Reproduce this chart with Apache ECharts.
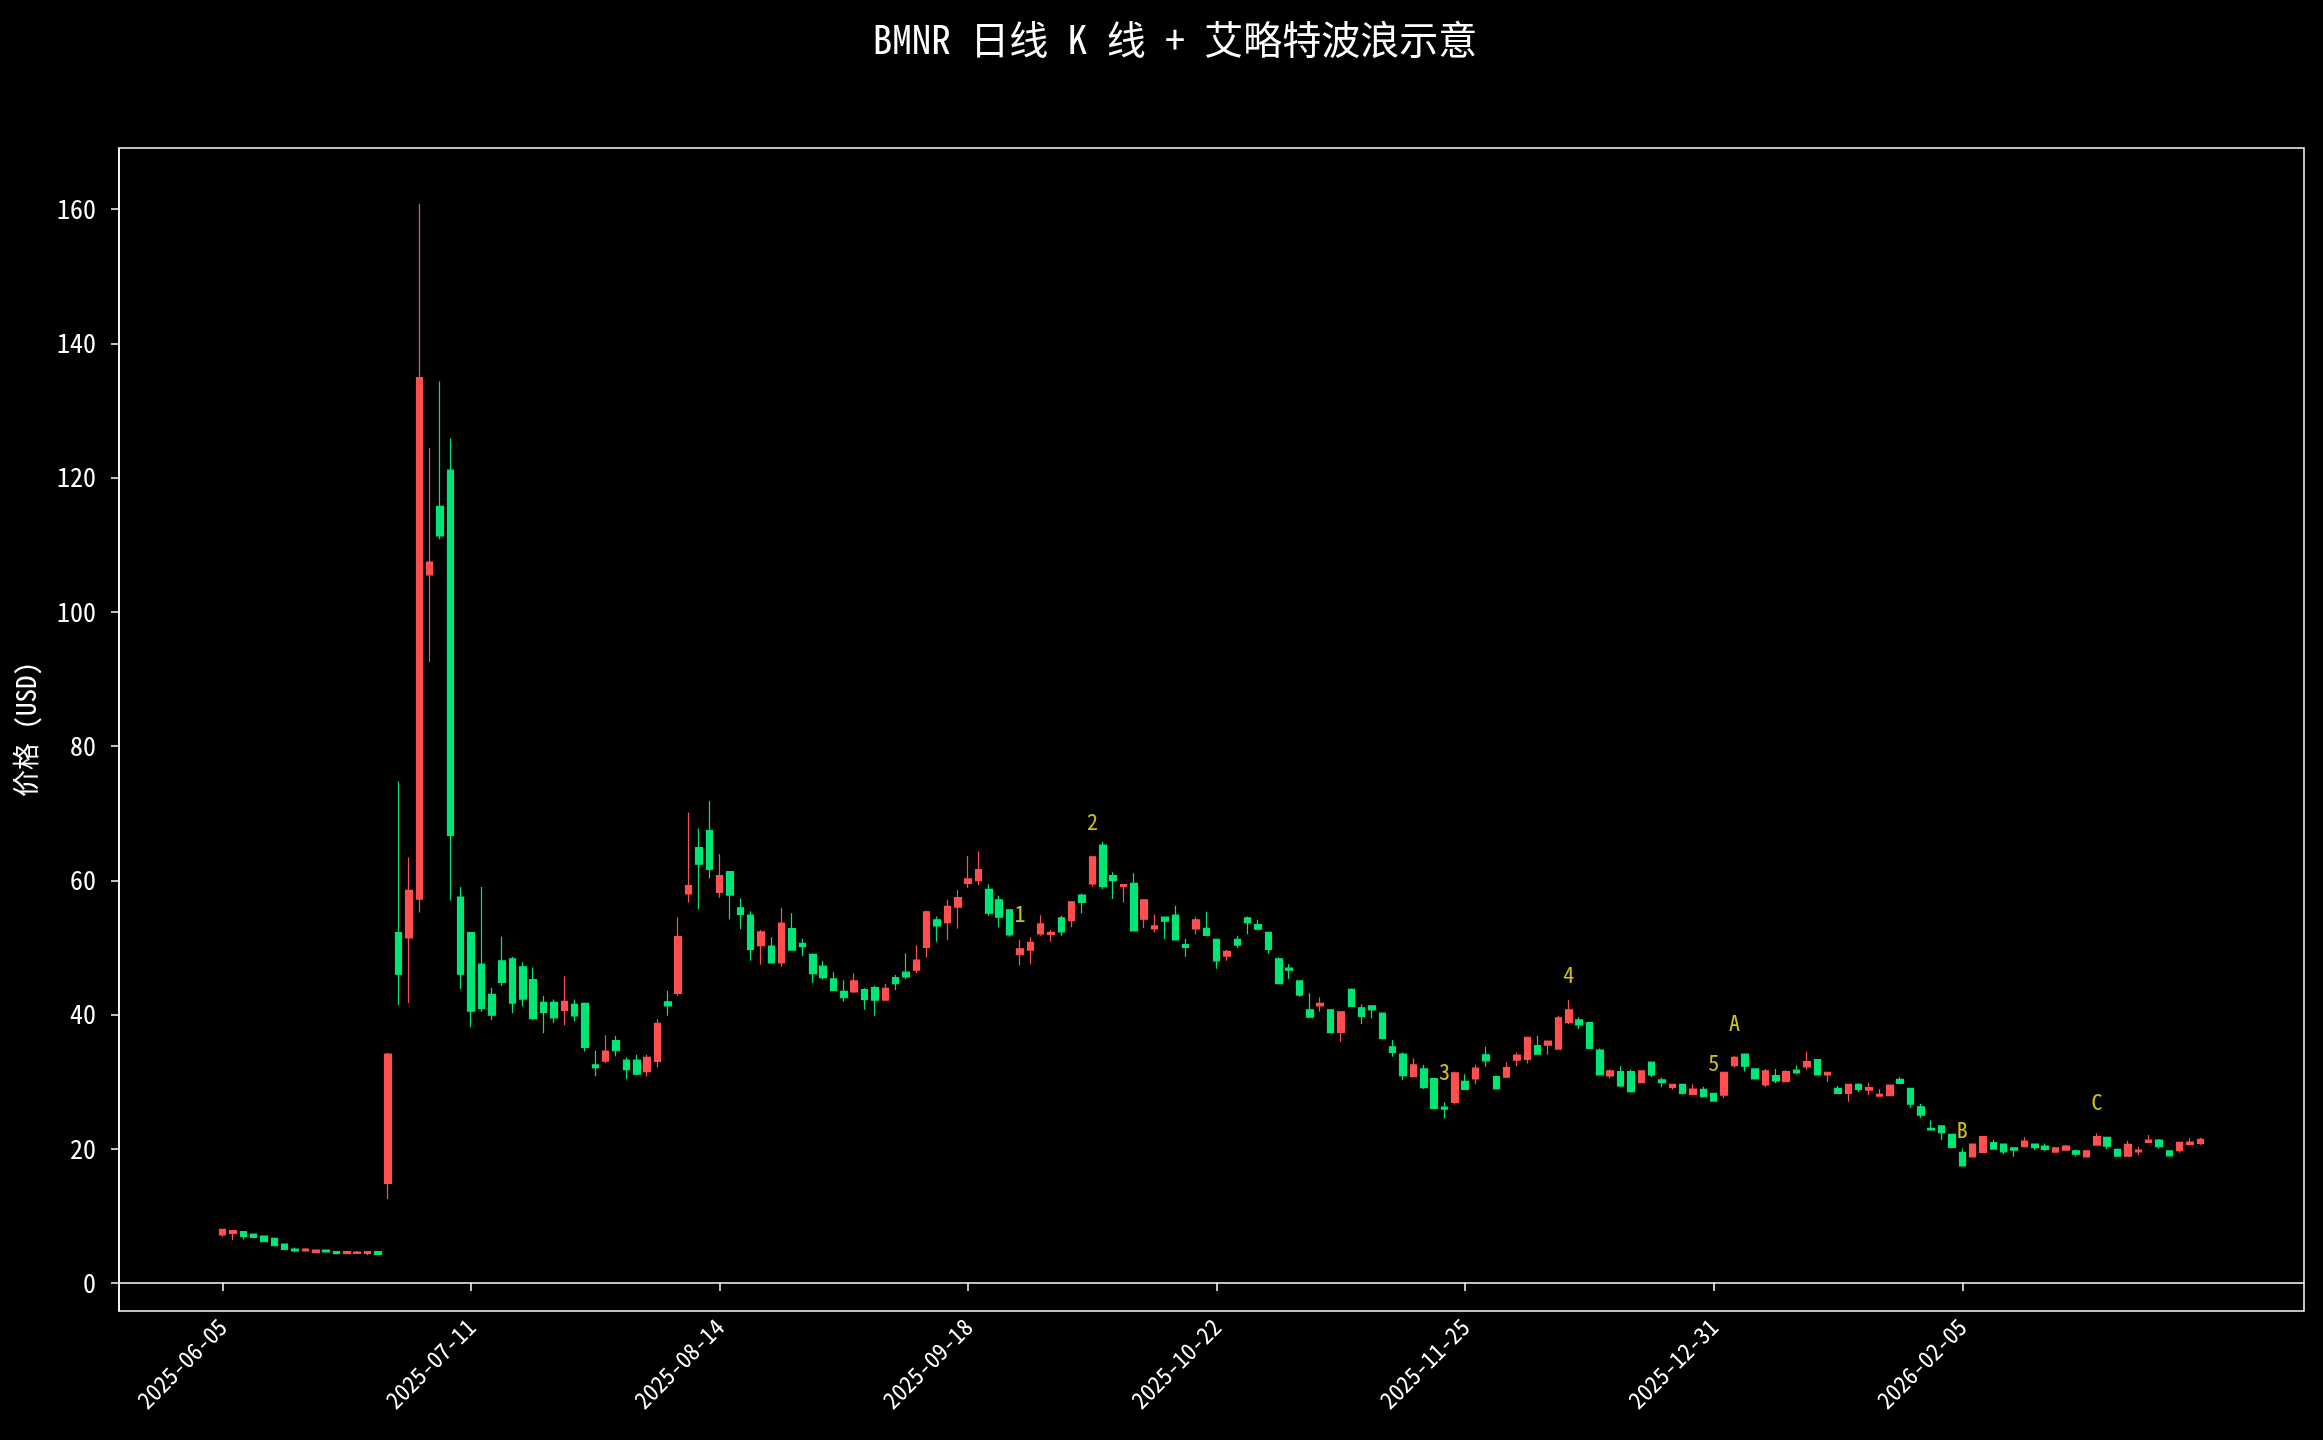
<!DOCTYPE html>
<html>
<head>
<meta charset="utf-8">
<script src="https://cdn.jsdelivr.net/npm/echarts@6/dist/echarts.min.js"></script>
<style>
html,body{margin:0;padding:0;background:#000;}
#chart{width:2323px;height:1440px;}
</style>
</head>
<body>
<div id="chart"></div>
<script>
// ---------- DATA ----------
const startDate = '2025-06-05';
const holidays = ['2025-06-19','2025-07-04','2025-09-01','2025-11-27','2025-12-25','2026-01-01','2026-01-19','2026-02-16'];
const opens = [7.15,7.4,7.65,7.3,7.0,6.65,5.8,5.07,4.77,4.52,4.92,4.67,4.37,4.42,4.42,4.67,
14.85,52.2,51.4,57.2,105.5,115.7,121.1,57.5,52.2,47.5,43.0,48.0,48.3,47.1,45.2,41.8,41.8,40.6,41.5,41.66,
32.5,33.07,36.1,33.2,33.2,31.5,33.0,41.9,43.15,57.95,64.85,67.4,58.2,61.3,55.9,54.8,50.25,50.2,47.7,52.8,
50.6,48.96,47.2,45.3,43.45,43.35,43.7,44.0,42.15,45.5,46.3,46.6,50.0,54.1,53.7,56.0,59.55,59.95,58.65,57.1,
55.6,48.9,49.6,52.0,51.95,54.4,54.0,57.8,59.45,65.25,60.7,59.1,59.55,54.2,52.75,54.5,54.8,50.4,52.75,52.85,
51.2,48.7,51.2,54.4,53.4,52.25,48.3,46.9,45.0,40.7,41.3,40.7,37.35,43.75,41.0,41.3,40.2,35.2,34.1,30.75,
31.9,30.45,26.2,26.9,30.05,30.4,34.0,30.75,30.65,33.2,33.3,35.35,35.45,34.85,38.8,39.2,38.8,34.7,30.85,31.5,
31.5,29.85,32.9,30.25,29.15,29.6,28.1,28.85,28.25,28.0,32.4,34.1,31.9,29.5,30.9,30.0,31.7,32.2,33.3,31.0,
29.0,28.25,29.6,28.75,27.85,27.9,30.35,29.0,26.25,23.05,23.4,22.15,19.45,18.8,19.45,20.9,20.7,20.15,20.3,20.7,
20.4,19.5,19.8,19.7,18.8,20.55,21.7,19.9,18.9,19.55,20.95,21.3,19.7,19.7,20.65,20.8];
const closes = [8.0,7.8,6.9,6.8,6.15,5.55,5.0,4.77,5.07,4.92,4.62,4.37,4.67,4.62,4.67,4.27,
34.1,46.0,58.5,134.9,107.4,111.3,66.7,46.0,40.5,40.9,39.9,44.8,41.7,42.3,39.4,40.3,39.5,41.95,39.8,35.1,
32.1,34.56,34.6,31.8,31.1,33.6,38.7,41.3,51.6,59.2,62.4,61.6,60.7,57.8,54.9,49.7,52.3,47.7,53.6,49.6,
50.1,46.1,45.5,43.6,42.5,45.0,42.25,42.15,43.9,44.6,45.6,48.1,55.3,53.2,56.1,57.4,60.2,61.6,55.1,54.5,
51.85,49.8,50.75,53.5,52.25,52.3,56.8,56.7,63.5,59.05,59.95,59.35,52.45,57.1,53.2,53.9,51.1,50.0,54.1,51.8,
48.0,49.4,50.35,53.7,52.7,49.7,44.6,46.6,42.9,39.6,41.65,37.3,40.4,41.2,39.7,40.7,36.45,34.35,30.9,32.5,
29.1,26.0,25.9,31.3,28.85,32.0,33.1,28.9,32.1,33.95,36.6,34.1,36.05,39.5,40.7,38.45,34.95,31.0,31.6,29.35,
28.5,31.6,31.0,29.85,29.6,28.25,28.9,27.75,27.1,31.4,33.6,32.3,30.4,31.6,30.1,31.5,31.3,33.0,31.0,31.4,
28.25,29.6,28.85,29.1,28.1,29.5,29.75,26.65,25.0,22.8,22.4,20.2,17.45,20.7,21.8,19.95,19.55,19.8,21.15,20.15,
19.9,20.15,20.4,19.2,19.7,21.8,20.4,18.9,20.65,19.8,21.3,20.3,18.95,20.95,21.0,21.4];
const lows = [6.9,6.4,6.5,6.8,6.15,5.55,5.0,4.57,4.67,4.42,4.62,4.37,4.37,4.42,4.12,4.27,
12.5,41.4,41.7,55.2,92.5,110.8,57.0,43.8,38.1,40.4,39.2,44.3,40.2,41.2,39.3,37.2,38.7,38.4,39.0,34.5,
30.8,32.8,33.8,30.4,31.0,30.8,32.1,39.8,42.8,56.7,55.7,60.3,57.4,54.2,52.7,48.0,47.4,47.6,47.1,49.5,
48.7,44.7,45.2,43.5,41.95,43.25,40.7,39.8,42.05,43.65,45.25,46.2,48.5,50.85,51.1,52.8,58.9,59.3,54.7,53.0,
51.6,47.3,47.5,51.75,50.85,51.75,53.0,55.1,59.05,58.7,57.2,56.7,52.45,52.9,52.2,51.25,51.1,48.6,51.95,51.8,
46.8,48.0,49.95,51.95,52.6,49.1,44.6,45.3,42.65,39.6,40.4,37.2,35.95,41.2,38.6,39.4,36.3,33.7,30.25,30.65,
28.9,26.0,24.5,26.6,28.75,29.6,32.2,28.9,30.65,32.3,32.7,34.1,34.0,34.85,38.6,37.85,34.95,31.0,30.5,29.25,
28.4,29.75,30.65,29.15,28.85,28.1,28.1,27.65,27.0,27.6,32.1,31.5,30.4,29.25,29.75,29.9,31.1,31.8,31.0,30.0,
28.25,27.0,28.5,28.0,27.75,27.9,29.6,26.1,24.6,22.8,21.3,20.05,17.35,18.8,19.45,19.95,19.2,18.8,20.2,19.8,
19.7,19.4,19.7,18.9,18.8,20.55,19.95,18.9,18.9,19.05,20.95,20.05,18.95,19.4,20.5,20.55];
const highs = [8.0,7.8,7.65,7.3,7.0,6.65,5.8,5.3,5.16,4.92,4.92,4.67,4.82,4.77,4.67,4.67,
34.3,74.7,63.4,160.8,124.4,134.3,125.8,59.0,52.2,59.0,44.0,51.6,48.6,47.8,47.0,42.75,42.25,45.7,42.25,41.66,
34.6,36.9,36.8,33.6,34.0,34.0,39.3,43.55,54.5,70.1,67.7,71.8,63.9,61.3,57.3,55.4,52.6,51.5,55.9,55.1,
51.3,49.1,48.0,46.3,45.1,46.1,43.9,44.3,44.6,45.9,49.1,50.3,55.5,54.6,57.1,58.55,63.6,64.3,59.4,57.7,
55.6,51.1,51.5,54.8,52.6,54.7,56.8,58.0,63.5,65.75,61.2,59.35,61.05,57.1,54.9,54.5,56.2,51.25,54.5,55.3,
51.2,49.6,51.75,54.6,54.1,52.25,48.5,47.5,45.1,43.15,42.55,40.8,40.4,43.9,41.5,41.3,40.2,36.2,34.35,33.5,
32.5,30.45,26.9,31.5,31.1,32.5,35.2,30.85,32.9,34.35,36.6,36.8,36.05,39.8,42.15,39.6,38.9,34.95,31.8,32.3,
31.8,31.7,33.0,30.6,29.6,29.6,29.6,29.25,28.25,31.4,33.85,34.2,32.0,31.9,31.9,31.7,32.4,34.45,33.3,31.4,
29.35,29.6,29.75,29.85,28.85,29.5,30.65,29.0,26.65,24.2,23.4,22.15,20.05,20.8,21.8,21.3,20.8,20.15,21.7,20.7,
20.8,20.15,20.55,19.9,19.7,22.3,21.7,19.9,21.2,20.3,22.05,21.45,19.7,20.95,21.55,21.65];
const waveLabels = ['1','2','3','4','5','A','B','C'];
const waveBarIndex = [77,84,118,130,144,146,168,181];
const wavePrice = [55.1,68.7,31.5,45.9,32.8,38.8,22.9,27.0];
const yTickValues = [0,20,40,60,80,100,120,140,160];
const tickEvery = 24;

// ---------- build trading-day categories ----------
function tradingDays(start, count, hol) {
  const out = [];
  const d = new Date(start + 'T00:00:00Z');
  while (out.length < count) {
    const s = d.toISOString().slice(0,10);
    const wd = d.getUTCDay();
    if (wd !== 0 && wd !== 6 && hol.indexOf(s) < 0) out.push(s);
    d.setUTCDate(d.getUTCDate() + 1);
  }
  return out;
}
const dates = tradingDays(startDate, opens.length, holidays);
const PAD_L = 10, PAD_R = 10;
const categories = [];
for (let i = 0; i < PAD_L; i++) categories.push('_l' + i);
dates.forEach(d => categories.push(d));
for (let i = 0; i < PAD_R; i++) categories.push('_r' + i);

const kData = dates.map((d, i) => [d, opens[i], closes[i], lows[i], highs[i]]);
const labelData = waveLabels.map((t, i) => ({ name: t, value: [dates[waveBarIndex[i]], wavePrice[i]] }));

const showIdx = (idx) => {
  const k = idx - PAD_L;
  return k >= 0 && k < dates.length && k % tickEvery === 0;
};

const FONT = "'Noto Sans Mono CJK SC', 'Noto Sans CJK SC', sans-serif";
const UP = '#ff4f4f', DOWN = '#00e676';

const chart = echarts.init(document.getElementById('chart'), null, { renderer: 'canvas' });
chart.setOption({
  backgroundColor: '#000000',
  animation: false,
  title: {
    text: 'BMNR 日线 K 线 + 艾略特波浪示意',
    left: 1170, top: 15, textAlign: 'center',
    textStyle: { color: '#ffffff', fontSize: 39, fontWeight: 'normal', fontFamily: FONT }
  },
  grid: {
    left: 119, right: 19, top: 148, bottom: 129,
    show: true, borderColor: '#ffffff', borderWidth: 1.5, backgroundColor: 'transparent'
  },
  xAxis: {
    type: 'category',
    data: categories,
    boundaryGap: false,
    axisLine: { lineStyle: { color: '#ffffff', width: 1.5 } },
    axisTick: { show: true, interval: showIdx, length: 8, lineStyle: { color: '#ffffff', width: 1.5 } },
    axisLabel: {
      interval: showIdx, rotate: 45, color: '#ffffff', fontSize: 23, fontFamily: FONT, margin: 12
    },
    splitLine: { show: false }
  },
  yAxis: {
    type: 'value',
    min: -4.17, max: 169.09,
    name: '价格 (USD)',
    nameLocation: 'middle', nameGap: 80, nameRotate: 90,
    nameTextStyle: { color: '#ffffff', fontSize: 27, fontFamily: FONT },
    axisLine: { show: true, lineStyle: { color: '#ffffff', width: 1.5 } },
    axisTick: { show: true, length: 8, customValues: yTickValues, lineStyle: { color: '#ffffff', width: 1.5 } },
    axisLabel: { color: '#ffffff', fontSize: 26, fontFamily: FONT, margin: 23, customValues: yTickValues },
    splitLine: { show: false }
  },
  series: [
    {
      type: 'candlestick',
      data: kData,
      encode: { x: 0, y: [1, 2, 3, 4] },
      barWidth: 7,
      itemStyle: {
        color: UP, color0: DOWN, borderColor: UP, borderColor0: DOWN, borderColorDoji: UP, borderWidth: 1.2
      }
    },
    {
      type: 'scatter',
      data: labelData,
      symbolSize: 1,
      itemStyle: { color: 'rgba(0,0,0,0)' },
      label: {
        show: true, position: 'inside', formatter: '{b}',
        color: '#fff01f', fontSize: 22, fontFamily: FONT
      },
      z: 5
    }
  ]
});
</script>
</body>
</html>
